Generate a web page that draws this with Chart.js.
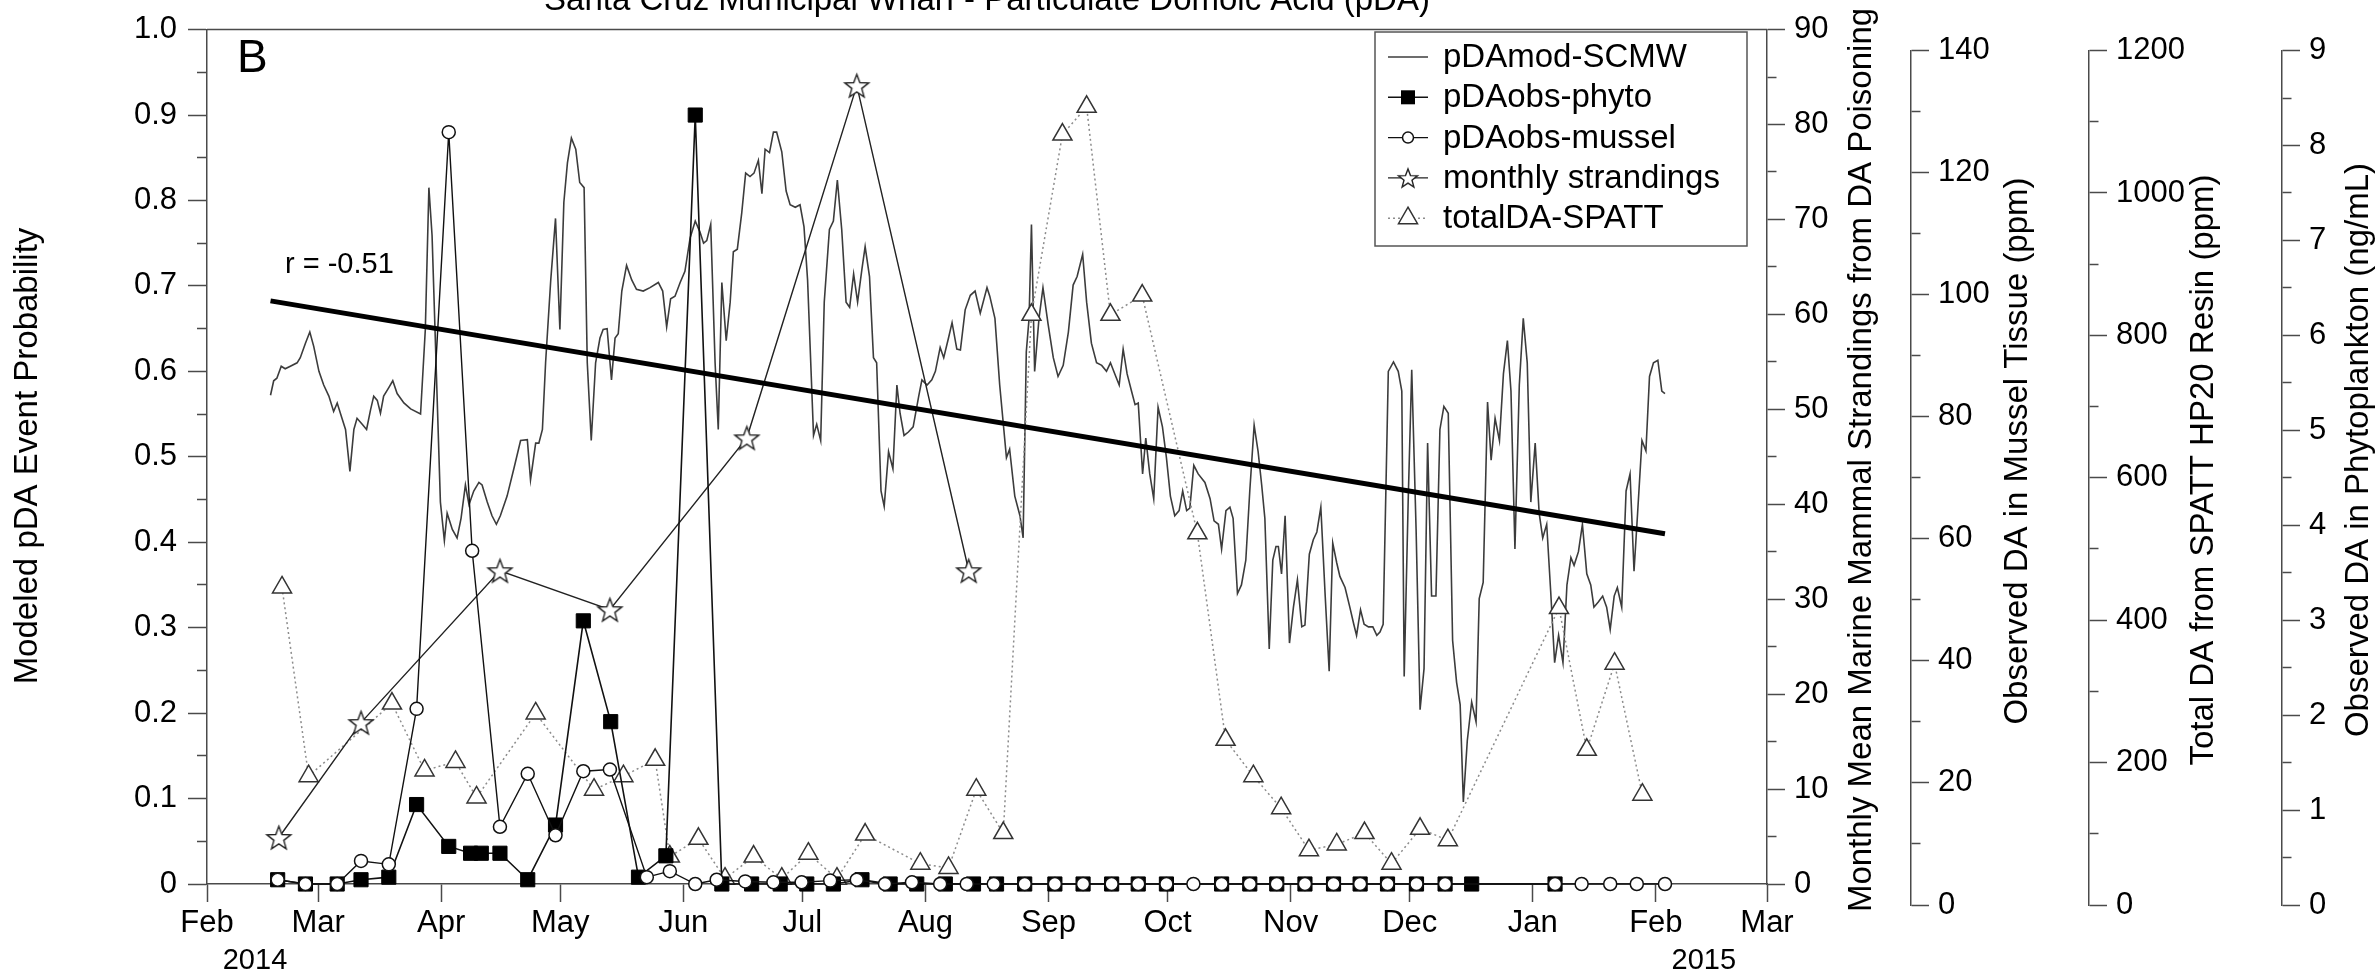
<!DOCTYPE html>
<html lang="en">
<head>
<meta charset="UTF-8">
<title>Santa Cruz Municipal Wharf - Particulate Domoic Acid (pDA)</title>
<script src="https://cdn.jsdelivr.net/npm/chart.js@4"></script>
<style>
    html, body { margin: 0; padding: 0; background: #fff; overflow: hidden; }
    #chart { display: block; }
</style>
</head>
<body>
<canvas id="chart" width="2380" height="975"></canvas>
<script>
// x values are days counted from 1 Feb 2014
const monthDays = [0, 28, 59, 89, 120, 150, 181, 212, 242, 273, 303, 334, 365, 393];
const monthNames = ['Feb', 'Mar', 'Apr', 'May', 'Jun', 'Jul', 'Aug', 'Sep', 'Oct', 'Nov', 'Dec', 'Jan', 'Feb', 'Mar'];
const yearLabels = [[0, '2014'], [365, '2015']];

// tick values (every other one carries a label)
const probTicks = [0, 0.05, 0.1, 0.15, 0.2, 0.25, 0.3, 0.35, 0.4, 0.45, 0.5, 0.55, 0.6, 0.65, 0.7, 0.75, 0.8, 0.85, 0.9, 0.95, 1];
const strandTicks = [0, 5, 10, 15, 20, 25, 30, 35, 40, 45, 50, 55, 60, 65, 70, 75, 80, 85, 90];
const musselTicks = [0, 10, 20, 30, 40, 50, 60, 70, 80, 90, 100, 110, 120, 130, 140];
const spattTicks = [0, 100, 200, 300, 400, 500, 600, 700, 800, 900, 1000, 1100, 1200];
const phytoTicks = [0, 0.5, 1, 1.5, 2, 2.5, 3, 3.5, 4, 4.5, 5, 5.5, 6, 6.5, 7, 7.5, 8, 8.5, 9];

// modelled pDA event probability [day, probability]
const pdaMod = [
    [16.0, 0.572], [16.8, 0.589], [17.6, 0.592], [18.7, 0.606], [19.7, 0.603], [21.0, 0.606], [22.7, 0.61],
    [23.5, 0.616], [24.8, 0.633], [25.9, 0.646], [26.9, 0.629], [28.2, 0.60], [29.4, 0.584], [30.7, 0.571],
    [31.9, 0.553], [32.8, 0.563], [34.0, 0.545], [34.9, 0.532], [36.0, 0.483], [37.0, 0.532], [37.8, 0.545],
    [39.1, 0.538], [40.2, 0.532], [41.2, 0.555], [42.0, 0.571], [42.9, 0.566], [43.7, 0.551], [44.5, 0.571],
    [45.8, 0.581], [46.8, 0.589], [47.9, 0.574], [49.6, 0.563], [51.3, 0.556], [53.8, 0.550], [55.0, 0.649],
    [55.9, 0.815], [56.7, 0.759], [58.8, 0.447], [59.8, 0.402], [60.5, 0.434], [61.8, 0.415], [63.0, 0.405],
    [64.0, 0.428], [65.1, 0.467], [66.0, 0.444], [67.2, 0.46], [68.5, 0.47], [69.3, 0.467], [70.6, 0.447],
    [71.8, 0.431], [72.9, 0.421], [73.9, 0.431], [75.6, 0.454], [77.3, 0.486], [79.0, 0.519], [80.7, 0.52],
    [81.5, 0.473], [82.8, 0.516], [83.6, 0.516], [84.5, 0.532], [85.3, 0.61], [86.6, 0.707], [87.8, 0.779],
    [88.9, 0.649], [89.9, 0.798], [90.8, 0.844], [91.8, 0.873], [92.9, 0.86], [93.9, 0.821], [95.0, 0.815],
    [95.8, 0.61], [96.8, 0.519], [97.9, 0.61],
    [99.0, 0.639], [99.8, 0.649], [100.8, 0.65], [101.9, 0.59], [102.8, 0.639], [103.6, 0.644], [104.5, 0.694],
    [105.7, 0.724], [107.0, 0.707], [108.2, 0.696], [109.9, 0.694], [111.6, 0.698], [113.7, 0.704], [114.8, 0.694],
    [115.8, 0.652], [116.8, 0.685], [117.9, 0.688], [119.2, 0.704], [120.4, 0.717], [121.7, 0.756], [123.0, 0.776],
    [124.2, 0.763], [125.1, 0.75], [125.9, 0.753], [126.9, 0.772], [128.0, 0.61], [128.8, 0.532], [129.7, 0.704],
    [130.8, 0.636], [131.8, 0.681], [132.6, 0.74], [133.6, 0.743], [134.7, 0.785], [135.7, 0.832], [136.8, 0.828],
    [137.8, 0.832], [138.9, 0.847], [139.8, 0.808], [140.6, 0.86], [141.7, 0.856], [142.7, 0.88], [143.5, 0.88],
    [144.8, 0.857], [145.9, 0.811], [146.9, 0.795], [148.2, 0.792], [149.4, 0.795], [150.4, 0.769], [151.3, 0.707],
    [152.8, 0.525], [153.6, 0.538], [154.6, 0.519], [155.5, 0.681], [156.8, 0.766], [157.8, 0.776], [158.8, 0.824],
    [159.9, 0.766], [161.0, 0.681], [161.9, 0.675], [162.9, 0.714], [163.9, 0.681], [165.0, 0.72], [165.8, 0.746],
    [166.9, 0.711], [167.9, 0.616], [168.7, 0.61], [169.8, 0.46], [170.6, 0.442], [171.7, 0.506], [172.8, 0.486],
    [173.8, 0.584], [174.6, 0.551], [175.6, 0.525], [176.7, 0.529], [177.9, 0.535], [179.3, 0.571], [180.1, 0.59],
    [181.4, 0.584], [182.6, 0.59], [183.5, 0.60], [184.7, 0.628], [185.6, 0.616], [186.8, 0.639], [187.7, 0.657],
    [188.9, 0.626], [189.8, 0.625], [191.0, 0.672], [192.3, 0.689], [193.5, 0.694], [194.8, 0.668], [196.5, 0.698],
    [197.2, 0.688], [198.5, 0.662], [199.7, 0.584], [201.4, 0.499], [202.2, 0.509], [203.5, 0.454], [204.8, 0.431],
    [205.6, 0.405], [206.4, 0.623], [207.1, 0.662], [207.7, 0.772], [208.5, 0.60], [209.6, 0.662], [210.6, 0.698],
    [211.9, 0.655], [213.2, 0.616], [214.4, 0.594], [215.7, 0.607], [217.0, 0.646], [218.2, 0.701], [219.2, 0.711],
    [220.6, 0.737], [221.6, 0.681], [222.8, 0.633], [224.1, 0.61], [225.4, 0.607], [226.6, 0.60], [227.6, 0.61],
    [228.7, 0.597], [229.8, 0.584], [230.8, 0.626], [231.8, 0.597], [232.9, 0.577], [233.8, 0.561], [234.6, 0.563],
    [235.7, 0.48], [236.5, 0.522], [237.5, 0.48], [238.5, 0.451], [239.6, 0.558], [240.7, 0.535], [241.7, 0.499],
    [242.7, 0.454], [243.8, 0.431], [244.9, 0.437], [245.8, 0.46], [246.8, 0.437], [247.6, 0.44], [248.6, 0.49],
    [249.7, 0.48], [251.4, 0.47], [252.7, 0.451], [253.7, 0.425], [254.8, 0.421], [255.6, 0.392], [256.7, 0.437],
    [257.7, 0.441], [258.5, 0.428], [259.6, 0.34], [260.6, 0.35], [261.7, 0.379], [262.7, 0.46], [263.8, 0.537],
    [264.8, 0.506], [265.7, 0.467], [266.5, 0.428], [267.6, 0.275], [268.5, 0.379], [269.3, 0.395], [269.9, 0.395],
    [270.7, 0.363], [271.6, 0.431], [272.7, 0.282], [273.7, 0.324], [274.7, 0.356], [275.8, 0.301], [276.6, 0.303],
    [277.7, 0.386], [278.7, 0.403], [279.6, 0.412], [280.6, 0.441], [281.7, 0.337], [282.7, 0.249], [283.6, 0.399],
    [284.6, 0.376], [285.4, 0.36], [286.7, 0.347], [287.9, 0.324], [288.9, 0.304], [289.6, 0.291], [290.6, 0.321],
    [291.5, 0.304], [292.6, 0.301], [293.7, 0.301], [294.7, 0.291],
    [295.5, 0.295], [296.3, 0.304], [297.6, 0.60], [298.9, 0.611], [300.1, 0.60], [301.0, 0.577], [301.6, 0.243],
    [302.6, 0.447], [303.5, 0.602], [304.6, 0.415], [305.6, 0.204], [306.6, 0.252], [307.5, 0.516], [308.5, 0.337],
    [309.6, 0.337], [310.6, 0.532], [311.6, 0.559], [312.7, 0.551], [313.8, 0.285], [314.8, 0.236], [315.7, 0.21],
    [316.5, 0.096], [317.5, 0.168], [318.6, 0.213], [319.7, 0.19], [320.5, 0.334], [321.5, 0.353], [322.6, 0.564],
    [323.5, 0.496], [324.5, 0.545], [325.6, 0.519], [326.6, 0.597], [327.6, 0.636], [328.5, 0.577], [329.5, 0.392],
    [330.6, 0.584], [331.6, 0.662], [332.6, 0.61], [333.5, 0.447], [334.6, 0.516], [335.6, 0.434], [336.5, 0.405],
    [337.5, 0.421], [338.5, 0.343], [339.5, 0.259], [340.5, 0.291], [341.6, 0.259], [342.6, 0.35], [343.6, 0.382],
    [344.4, 0.373], [345.5, 0.389], [346.5, 0.421], [347.6, 0.363], [348.6, 0.35], [349.4, 0.324], [350.5, 0.33],
    [351.6, 0.337], [352.6, 0.324], [353.5, 0.298], [354.5, 0.337], [355.3, 0.347], [356.4, 0.324], [357.5, 0.46],
    [358.5, 0.48], [359.5, 0.366], [360.4, 0.434], [361.5, 0.519], [362.5, 0.507], [363.4, 0.594], [364.4, 0.61],
    [365.5, 0.613], [366.5, 0.577], [367.3, 0.574]
];

// observed pDA from phytoplankton samples [day, probability]
const pdaPhyto = [
    [17.8, 0.005], [24.8, 0], [32.8, 0], [38.8, 0.005], [45.8, 0.008], [52.8, 0.093], [60.9, 0.044], [66.4, 0.036],
    [69.1, 0.036], [73.8, 0.036], [80.8, 0.005], [87.8, 0.069], [94.8, 0.308], [101.7, 0.19], [108.7, 0.008],
    [115.6, 0.033], [123.0, 0.90], [129.7, 0], [137.2, 0], [144.4, 0], [151.1, 0], [157.8, 0], [165.0, 0.005],
    [172.1, 0], [178.8, 0], [186.0, 0], [193.1, 0], [198.9, 0], [206.0, 0], [213.6, 0], [220.7, 0], [227.9, 0],
    [234.6, 0], [241.7, 0], [255.6, 0], [262.7, 0], [269.5, 0], [276.6, 0], [283.8, 0], [290.5, 0], [297.4, 0],
    [304.7, 0], [311.9, 0], [318.6, 0], [339.6, 0]
];

// observed pDA from mussel tissue [day, probability]
const pdaMussel = [
    [17.8, 0.005], [24.8, 0], [32.8, 0], [38.8, 0.027], [45.8, 0.023], [52.8, 0.205], [60.9, 0.88], [66.8, 0.39],
    [73.8, 0.067], [80.8, 0.129], [87.8, 0.057], [94.8, 0.132], [101.5, 0.134], [110.8, 0.008], [116.6, 0.015],
    [123.0, 0], [128.4, 0.005], [135.6, 0.003], [142.7, 0.002], [149.8, 0.002], [157.0, 0.004], [163.7, 0.005],
    [170.8, 0], [177.6, 0.002], [184.7, 0], [191.4, 0], [198.2, 0], [206.0, 0], [213.6, 0], [220.7, 0], [227.9, 0],
    [234.6, 0], [241.7, 0], [248.5, 0], [255.6, 0], [262.7, 0], [269.5, 0], [276.6, 0], [283.8, 0], [290.5, 0],
    [297.4, 0], [304.7, 0], [311.9, 0], [339.6, 0], [346.3, 0], [353.5, 0], [360.2, 0], [367.3, 0]
];

// monthly mean marine mammal strandings [day, count]
const strandings = [[18.1, 4.9], [38.8, 17.0], [73.8, 33.0], [101.5, 28.9], [136.0, 47.0], [163.7, 84.1], [191.9, 33.0]];

// total DA from SPATT resin [day, ppm]
const spattDA = [
    [18.9, 446], [25.6, 181], [46.6, 283], [54.8, 189], [62.6, 201], [67.9, 151], [82.8, 269], [97.5, 162],
    [104.9, 181], [112.9, 204], [116.6, 68], [123.8, 93], [130.5, 37], [137.7, 68], [144.8, 37], [151.5, 72],
    [158.7, 37], [165.8, 99], [179.7, 58], [186.8, 52], [193.8, 162], [200.6, 101], [207.7, 829], [215.5, 1082],
    [221.6, 1121], [227.6, 829], [235.6, 856], [249.5, 522], [256.6, 232], [263.6, 181], [270.6, 136], [277.6, 77],
    [284.6, 85], [291.6, 101], [298.4, 58], [305.6, 107], [312.6, 91], [340.6, 417], [347.6, 218], [354.6, 339],
    [361.6, 155]
];

// linear trend of the modelled series
const trendLine = [[16.0, 0.6825], [367.3, 0.41]];
const trendText = 'r = -0.51';

const chartTitle = 'Santa Cruz Municipal Wharf - Particulate Domoic Acid (pDA)';
const panelLetter = 'B';
const axisTitles = {
    y: 'Modeled pDA Event Probability',
    ys: 'Monthly Mean Marine Mammal Strandings from DA Poisoning',
    ym: 'Observed DA in Mussel Tissue (ppm)',
    yp: 'Total DA from SPATT HP20 Resin (ppm)',
    yf: 'Observed DA in Phytoplankton (ng/mL)'
};

const FONT = "'Liberation Sans', Arial, Helvetica, sans-serif";
const AXIS = '#4a4a4a';
const tickFont = {family: FONT, size: 31};
const axisDrop = 21;   // the three outer axes sit a bit lower than the main frame

Chart.defaults.font.family = FONT;
Chart.defaults.color = '#000';

const toXY = arr => arr.map(p => ({x: p[0], y: p[1]}));

function makeStar(r, ri) {
    const c = document.createElement('canvas');
    const size = Math.ceil(2 * r + 4);
    c.width = size;
    c.height = size;
    const g = c.getContext('2d');
    g.translate(size / 2, size / 2 + r * 0.1);
    g.beginPath();
    for (let k = 0; k < 10; k++) {
        const rad = k % 2 ? ri : r;
        const ang = -Math.PI / 2 + k * Math.PI / 5;
        g.lineTo(rad * Math.cos(ang), rad * Math.sin(ang));
    }
    g.closePath();
    g.fillStyle = '#fff';
    g.fill();
    g.strokeStyle = '#222';
    g.lineWidth = 1.4;
    g.stroke();
    return c;
}
const starBig = makeStar(12.5, 5.2);
const starSmall = makeStar(10, 4.2);

const plainTick = v => String(v);
const probTick = v => (v === 0 ? '0' : v.toFixed(1));

function valueAxis(ticks, position, weight, width, fmt) {
    return {
        type: 'linear',
        position: position,
        weight: weight,
        min: ticks[0],
        max: ticks[ticks.length - 1],
        afterBuildTicks: s => { s.ticks = ticks.map(v => ({value: v})); },
        afterFit: s => { s.width = width; },
        ticks: {
            autoSkip: false,
            font: tickFont,
            color: '#000',
            padding: position === 'left' ? 11 : 9,
            callback: (v, i) => (i % 2 ? '' : fmt(v))
        },
        grid: {
            drawOnChartArea: false,
            tickLength: position === 'left' ? 19 : 18,
            tickColor: AXIS,
            tickWidth: 1.5,
            tickBorderDash: c => (c.index % 2 ? (position === 'left' ? [0, 9, 10, 100] : [9, 100]) : [])
        },
        border: {color: AXIS, width: 1.5}
    };
}

// move the three outer axes down by axisDrop pixels
const shiftAxes = {
    id: 'shiftAxes',
    afterLayout(chart) {
        ['ym', 'yp', 'yf'].forEach(id => {
            const s = chart.scales[id];
            s.top += axisDrop;
            s.bottom += axisDrop;
            s.configure();
        });
    }
};

function drawMarker(ctx, ds, x, y) {
    ctx.save();
    ctx.setLineDash([]);
    ctx.fillStyle = ds.pointBackgroundColor;
    ctx.strokeStyle = ds.pointBorderColor;
    ctx.lineWidth = ds.pointBorderWidth;
    const st = ds.pointStyle;
    if (st === 'rect') {
        const h = 7;
        ctx.fillRect(x - h, y - h, 2 * h, 2 * h);
    } else if (st === 'circle') {
        ctx.beginPath();
        ctx.arc(x, y, 5.5, 0, Math.PI * 2);
        ctx.fill();
        ctx.stroke();
    } else if (st === 'triangle') {
        const r = 11;
        ctx.beginPath();
        ctx.moveTo(x, y - r);
        ctx.lineTo(x + r * 0.866, y + r / 2);
        ctx.lineTo(x - r * 0.866, y + r / 2);
        ctx.closePath();
        ctx.fill();
        ctx.stroke();
    } else if (st === starBig) {
        ctx.drawImage(starSmall, x - starSmall.width / 2, y - starSmall.height / 2);
    }
    ctx.restore();
}

const decorations = {
    id: 'decorations',
    afterDraw(chart) {
        const ctx = chart.ctx;
        const a = chart.chartArea;
        ctx.save();

        // top edge of the frame
        ctx.strokeStyle = AXIS;
        ctx.lineWidth = 1.5;
        ctx.beginPath();
        ctx.moveTo(a.left, a.top);
        ctx.lineTo(a.right, a.top);
        ctx.stroke();

        // title, cut at the top edge like the source
        ctx.fillStyle = '#000';
        ctx.font = '33px ' + FONT;
        ctx.textAlign = 'center';
        ctx.textBaseline = 'alphabetic';
        ctx.fillText(chartTitle, (a.left + a.right) / 2, 10);

        // panel letter and correlation
        ctx.textAlign = 'left';
        ctx.font = '46px ' + FONT;
        ctx.fillText(panelLetter, a.left + 30, 72);
        ctx.font = '29px ' + FONT;
        ctx.fillText(trendText, a.left + 78, 273);

        // year labels below the month ticks
        ctx.font = '29px ' + FONT;
        ctx.textAlign = 'center';
        ctx.textBaseline = 'middle';
        yearLabels.forEach(([d, t]) => {
            ctx.fillText(t, chart.scales.x.getPixelForValue(d) + 48, 961);
        });

        // axis titles
        ctx.font = '33px ' + FONT;
        const vText = (text, x, y) => {
            ctx.save();
            ctx.translate(x, y);
            ctx.rotate(-Math.PI / 2);
            ctx.textAlign = 'center';
            ctx.textBaseline = 'middle';
            ctx.fillText(text, 0, 0);
            ctx.restore();
        };
        vText(axisTitles.y, 28, 456);
        vText(axisTitles.ys, chart.scales.ys.right - 49, 460);
        vText(axisTitles.ym, chart.scales.ym.right - 71, 451);
        vText(axisTitles.yp, chart.scales.yp.right - 78, 470);
        vText(axisTitles.yf, chart.scales.yf.right - 21, 450);

        // legend
        const bx = 1375, by = 32, bw = 372, bh = 214;
        ctx.fillStyle = '#fff';
        ctx.fillRect(bx, by, bw, bh);
        ctx.strokeStyle = '#555';
        ctx.lineWidth = 1.5;
        ctx.strokeRect(bx, by, bw, bh);
        chart.data.datasets.slice(0, 5).forEach((ds, i) => {
            const y = by + 25 + i * 40.3;
            ctx.save();
            ctx.strokeStyle = ds.borderColor;
            ctx.lineWidth = ds.borderWidth;
            ctx.setLineDash(ds.borderDash || []);
            ctx.beginPath();
            ctx.moveTo(bx + 13, y);
            ctx.lineTo(bx + 53, y);
            ctx.stroke();
            ctx.restore();
            if (ds.pointRadius) drawMarker(ctx, ds, bx + 33, y);
            ctx.fillStyle = '#000';
            ctx.font = '33px ' + FONT;
            ctx.textAlign = 'left';
            ctx.textBaseline = 'middle';
            ctx.fillText(ds.label, bx + 68, y + 1);
        });
        ctx.restore();
    }
};

new Chart(document.getElementById('chart'), {
    type: 'scatter',
    data: {
        datasets: [
            {
                label: 'pDAmod-SCMW',
                data: toXY(pdaMod),
                showLine: true,
                borderColor: '#3c3c3c',
                borderWidth: 1.6,
                pointRadius: 0,
                yAxisID: 'y',
                order: 5
            },
            {
                label: 'pDAobs-phyto',
                data: toXY(pdaPhyto),
                showLine: true,
                borderColor: '#111',
                borderWidth: 1.6,
                pointStyle: 'rect',
                pointRadius: 10,
                pointBackgroundColor: '#000',
                pointBorderColor: '#000',
                pointBorderWidth: 1,
                yAxisID: 'y',
                clip: false,
                order: 2
            },
            {
                label: 'pDAobs-mussel',
                data: toXY(pdaMussel),
                showLine: true,
                borderColor: '#111',
                borderWidth: 1.4,
                pointStyle: 'circle',
                pointRadius: 6.5,
                pointBackgroundColor: '#fff',
                pointBorderColor: '#111',
                pointBorderWidth: 1.5,
                yAxisID: 'y',
                clip: false,
                order: 1
            },
            {
                label: 'monthly strandings',
                data: toXY(strandings),
                showLine: true,
                borderColor: '#222',
                borderWidth: 1.4,
                pointStyle: starBig,
                pointRadius: 12,
                yAxisID: 'ys',
                clip: false,
                order: 3
            },
            {
                label: 'totalDA-SPATT',
                data: toXY(spattDA),
                showLine: true,
                borderColor: '#8c8c8c',
                borderWidth: 1.5,
                borderDash: [2, 3],
                pointStyle: 'triangle',
                pointRadius: 11,
                pointBackgroundColor: '#fff',
                pointBorderColor: '#333',
                pointBorderWidth: 1.5,
                yAxisID: 'yp',
                clip: false,
                order: 4
            },
            {
                label: 'trend',
                data: toXY(trendLine),
                showLine: true,
                borderColor: '#000',
                borderWidth: 5,
                pointRadius: 0,
                yAxisID: 'y',
                order: 0
            }
        ]
    },
    options: {
        responsive: false,
        devicePixelRatio: 1,
        animation: false,
        events: [],
        layout: {padding: {top: 21, left: 0, right: 0, bottom: 0}, autoPadding: false},
        plugins: {legend: {display: false}, title: {display: false}, tooltip: {enabled: false}},
        scales: {
            x: {
                type: 'linear',
                position: 'bottom',
                min: monthDays[0],
                max: monthDays[monthDays.length - 1],
                afterBuildTicks: s => { s.ticks = monthDays.map(v => ({value: v})); },
                afterFit: s => { s.height = 91; },
                ticks: {
                    autoSkip: false,
                    maxRotation: 0,
                    font: tickFont,
                    color: '#000',
                    padding: 3,
                    callback: (v, i) => monthNames[i]
                },
                grid: {drawOnChartArea: false, tickLength: 18, tickColor: AXIS, tickWidth: 1.5},
                border: {color: AXIS, width: 1.5}
            },
            y: valueAxis(probTicks, 'left', 0, 207, probTick),
            ys: valueAxis(strandTicks, 'right', 1, 144, plainTick),
            ym: valueAxis(musselTicks, 'right', 2, 178, plainTick),
            yp: valueAxis(spattTicks, 'right', 3, 193, plainTick),
            yf: valueAxis(phytoTicks, 'right', 4, 98, plainTick)
        }
    },
    plugins: [shiftAxes, decorations]
});
</script>
</body>
</html>
